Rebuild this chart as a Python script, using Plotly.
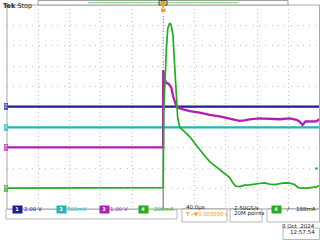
import plotly.graph_objects as go

# time axis in microseconds (40 us/div, trigger at centre); vertical in divisions
ch1_t = [-200, 200]
ch1_v = [0.02, 0.02]

ch2_t = [-200, 200]
ch2_v = [-1.0, -1.0]

ch3_t = [-200, -0.2, 0.0, 1.9, 4.1, 6.1, 8.3, 10.5, 12.5, 14.7, 16.9, 21, 34, 46.6, 59.4, 72,
         85, 97.7, 104, 110.5, 123, 136, 149, 161.7, 170.6, 174.4, 178.3, 182, 190, 196, 200]
ch3_v = [-1.98, -1.98, 1.8, 1.32, 1.17, 1.16, 1.07, 0.93, 0.54, 0.24, 0.02, -0.07, -0.2, -0.27,
         -0.39, -0.46, -0.59, -0.68, -0.66, -0.61, -0.56, -0.58, -0.6, -0.56, -0.63, -0.71,
         -0.88, -0.71, -0.72, -0.7, -0.6]
ch3_edge_t = [0.0, 0.0]
ch3_edge_v = [-5.0, 1.8]

ch4_t = [-200, -0.2, 0.0, 0.6, 1.9, 4.1, 5.8, 8.3, 10.2, 12.5, 14.7, 16.9, 18.5, 21, 27.5, 34,
         40, 46.6, 53, 59.4, 66, 72, 78.6, 85, 88.8, 92.6, 97.7, 104, 110.5, 117, 123, 130,
         136, 142.5, 149, 155, 161.7, 168, 172, 176, 183, 190, 195, 200]
ch4_v = [-3.98, -3.98, -3.95, -0.2, 1.3, 2.9, 3.85, 4.12, 4.0, 3.5, 1.95, 0.34, -0.54, -0.98,
         -1.2, -1.46, -1.76, -2.1, -2.39, -2.68, -2.88, -3.07, -3.27, -3.46, -3.7, -3.88,
         -3.9, -3.83, -3.82, -3.8, -3.75, -3.72, -3.78, -3.8, -3.75, -3.72, -3.73, -3.8,
         -3.93, -3.98, -3.98, -3.97, -3.93, -3.85]
ch4_dot_t = [196]
ch4_dot_v = [-3.02]

ch_names = ["1", "2", "3", "4"]
ch_offsets = [0.02, -1.0, -1.98, -3.98]
ch_scales = ["2.00 V", "500mV", "1.00 V", "200mA"]
ch_colors = ["#1e1e92", "#22b4b8", "#b21eb4", "#1eae1e"]
ch_light = ["#9aa6ee", "#9ee0e4", "#e0a0e2", "#a0dca0"]

W, H = 320, 240
def px(x): return x / W
def py(y): return 1 - y / H

fig = go.Figure()
fig.add_trace(go.Scatter(x=ch1_t, y=ch1_v, mode="lines", line=dict(color=ch_colors[0], width=2.3)))
fig.add_trace(go.Scatter(x=ch2_t, y=ch2_v, mode="lines", line=dict(color=ch_colors[1], width=2.3)))
fig.add_trace(go.Scatter(x=ch3_edge_t, y=ch3_edge_v, mode="lines", line=dict(color="#a088a2", width=1.4)))
fig.add_trace(go.Scatter(x=ch3_t, y=ch3_v, mode="lines", line=dict(color=ch_colors[2], width=2.3)))
fig.add_trace(go.Scatter(x=ch4_t, y=ch4_v, mode="lines", line=dict(color=ch_colors[3], width=1.7)))
fig.add_trace(go.Scatter(x=ch4_dot_t, y=ch4_dot_v, mode="markers",
                         marker=dict(color=ch_colors[3], size=2.5)))

shapes = []
shapes.append(dict(type="line", xref="x", yref="y", x0=0, x1=0, y0=-5, y1=5,
                   line=dict(color="#8a8a8a", width=1, dash="1px,2px"), layer="below"))
shapes.append(dict(type="rect", xref="paper", yref="paper", x0=px(7), x1=px(319.5),
                   y0=py(209), y1=py(5), line=dict(color="#a8a8a8", width=1)))
shapes.append(dict(type="rect", xref="paper", yref="paper", x0=px(38), x1=px(288),
                   y0=py(5), y1=py(0.5), line=dict(color="#a0a0a0", width=1), fillcolor="white"))
shapes.append(dict(type="line", xref="paper", yref="paper", x0=px(88), x1=px(238),
                   y0=py(2.6), y1=py(2.6), line=dict(color="#8ed88e", width=1.2)))
shapes.append(dict(type="rect", xref="paper", yref="paper", x0=px(159), x1=px(167),
                   y0=py(5), y1=py(0.5), line=dict(color="#444444", width=1)))
shapes.append(dict(type="path", xref="paper", yref="paper",
                   path=f"M {px(160.5)} {py(1)} L {px(165.5)} {py(1)} L {px(165.5)} {py(5)} L {px(163)} {py(7.5)} L {px(160.5)} {py(5)} Z",
                   fillcolor="#f0a020", line=dict(width=0)))
shapes.append(dict(type="rect", xref="paper", yref="paper", x0=px(161), x1=px(165.5),
                   y0=py(12), y1=py(8.5), fillcolor="#f0a020", line=dict(width=0)))
shapes.append(dict(type="rect", xref="paper", yref="paper", x0=px(6), x1=px(177),
                   y0=py(219), y1=py(209.5), line=dict(color="#b8b8b8", width=1)))
shapes.append(dict(type="rect", xref="paper", yref="paper", x0=px(182), x1=px(227),
                   y0=py(222), y1=py(208.5), line=dict(color="#b8b8b8", width=1)))
shapes.append(dict(type="rect", xref="paper", yref="paper", x0=px(230), x1=px(262),
                   y0=py(222), y1=py(208.5), line=dict(color="#b8b8b8", width=1)))
shapes.append(dict(type="rect", xref="paper", yref="paper", x0=px(267), x1=px(319.5),
                   y0=py(222), y1=py(208.5), line=dict(color="#b8b8b8", width=1)))
shapes.append(dict(type="rect", xref="paper", yref="paper", x0=px(283), x1=px(319.5),
                   y0=py(239.5), y1=py(228), line=dict(color="#b8b8b8", width=1)))

FONT = "DejaVu Sans"
ann = []
ann.append(dict(x=px(0.5), y=py(0), xref="paper", yref="paper", xanchor="left", yanchor="top",
                text="<b>Tek</b> Stop", showarrow=False, font=dict(size=6.5, color="#202020", family=FONT)))
badge_x = [12, 56, 99, 143]
label_x = [22, 65, 108, 152]
for i in range(4):
    ann.append(dict(x=px(3.6), y=ch_offsets[i], xref="paper", yref="y", text=ch_names[i],
                    showarrow=False, font=dict(size=5, color=ch_colors[i], family=FONT),
                    bgcolor=ch_light[i], bordercolor=ch_colors[i], borderwidth=0.5, borderpad=0))
    ann.append(dict(x=px(badge_x[i]), y=py(213.8), xref="paper", yref="paper", text="<b>" + ch_names[i] + "</b>",
                    showarrow=False, font=dict(size=5, color="white", family=FONT),
                    bgcolor=ch_colors[i], borderpad=0.3, width=8, height=6))
    ann.append(dict(x=px(label_x[i]), y=py(213.8), xref="paper", yref="paper", xanchor="left",
                    text=ch_scales[i], showarrow=False,
                    font=dict(size=5.5, color=ch_colors[i], family=FONT)))
ann.append(dict(x=px(184), y=py(213), xref="paper", yref="paper", xanchor="left", text="40.0µs",
                showarrow=False, font=dict(size=5.5, color="#202020", family=FONT)))
ann.append(dict(x=px(184), y=py(218.5), xref="paper", yref="paper", xanchor="left",
                text="<b>T</b>→▼0.000000 s", showarrow=False,
                font=dict(size=5.3, color="#f0a020", family=FONT)))
ann.append(dict(x=px(232), y=py(213), xref="paper", yref="paper", xanchor="left", text="2.50GS/s",
                showarrow=False, font=dict(size=5.5, color="#202020", family=FONT)))
ann.append(dict(x=px(232), y=py(218.5), xref="paper", yref="paper", xanchor="left", text="20M points",
                showarrow=False, font=dict(size=5.5, color="#202020", family=FONT)))
ann.append(dict(x=px(282), y=py(214), xref="paper", yref="paper", text="<b>4</b>",
                showarrow=False, font=dict(size=5, color="white", family=FONT),
                bgcolor=ch_colors[3], borderpad=0.3, width=8, height=6))
ann.append(dict(x=px(292), y=py(214), xref="paper", yref="paper", text="<i>/</i>",
                showarrow=False, font=dict(size=6, color="#202020", family=FONT)))
ann.append(dict(x=px(318), y=py(214), xref="paper", yref="paper", xanchor="right", text="188mA",
                showarrow=False, font=dict(size=5.5, color="#202020", family=FONT)))
ann.append(dict(x=px(317), y=py(231), xref="paper", yref="paper", xanchor="right", text="8 Oct  2024",
                showarrow=False, font=dict(size=5.5, color="#202020", family=FONT)))
ann.append(dict(x=px(317), y=py(236.5), xref="paper", yref="paper", xanchor="right", text="12:57:54",
                showarrow=False, font=dict(size=5.5, color="#202020", family=FONT)))

fig.update_layout(
    width=W, height=H, margin=dict(l=0, r=0, t=0, b=0),
    paper_bgcolor="white", plot_bgcolor="white", showlegend=False,
    shapes=shapes, annotations=ann,
    xaxis=dict(domain=[px(7), px(319.5)], range=[-200, 200], dtick=40, showticklabels=False,
               showgrid=True, gridcolor="#c2c2c2", gridwidth=1, griddash="1px,3.1px",
               zeroline=False, ticks="", fixedrange=True),
    yaxis=dict(domain=[py(209), py(5)], range=[-5, 5], dtick=1, showticklabels=False,
               showgrid=True, gridcolor="#c2c2c2", gridwidth=1, griddash="1px,5.3px",
               zeroline=False, ticks="", fixedrange=True),
)
fig.write_html("out.html")
